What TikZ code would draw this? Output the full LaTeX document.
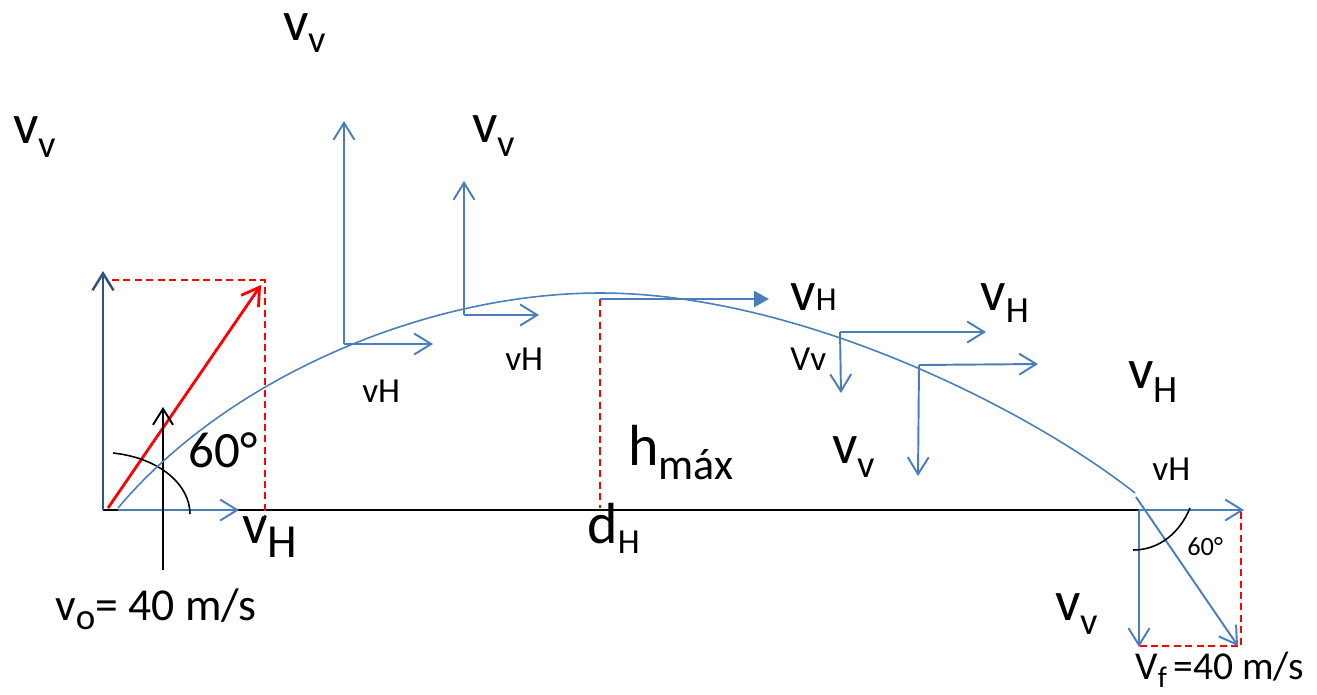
\documentclass[tikz,border=0pt]{standalone}
\usepackage{fontspec}
\setmainfont{Carlito}
\usepackage{tikz}
\usetikzlibrary{arrows.meta}
\definecolor{vblue}{HTML}{4A7EBB}
\definecolor{dblue}{HTML}{2E5181}
\newcommand{\lowsub}[3]{\raisebox{-#3}{\fontsize{#1}{#1}\selectfont #2}}

\begin{document}
\begin{tikzpicture}[
  x=0.02cm, y=-0.02cm,
  vec/.style={vblue, line width=1.1pt, -{Straight Barb[length=3.4mm, width=4.2mm]}},
  comp/.style={red, line width=1.2pt, dash pattern=on 4pt off 2.5pt},
  traj/.style={vblue, line width=0.9pt},
  angarc/.style={black, line width=0.9pt},
  txt/.style={anchor=base west, inner sep=0pt, font=\fontsize{#1}{#1}\selectfont}
]
\useasboundingbox (0,0) rectangle (1317,694);

\coordinate (origin) at (103,510);
\coordinate (vtop) at (103,271);
\coordinate (red0) at (108,508);
\coordinate (red1) at (261,285);
\coordinate (hstart) at (118,510);
\coordinate (htip) at (239,510);
\coordinate (boxtl) at (112,280);
\coordinate (boxtr) at (265,280);
\coordinate (boxbr) at (265,520);
\coordinate (ground) at (1150,510);
\coordinate (vzerob) at (163,570);
\coordinate (vzerot) at (163,407);

\coordinate (p1) at (344,344);   \coordinate (p1v) at (344,121);  \coordinate (p1h) at (433,344);
\coordinate (p2) at (464,315);   \coordinate (p2v) at (464,181);  \coordinate (p2h) at (539,315);
\coordinate (top) at (600,299);  \coordinate (toph) at (769,299); \coordinate (topg) at (600,508);
\coordinate (p4) at (840,332);   \coordinate (p4v) at (841,393);  \coordinate (p4h) at (986,332);
\coordinate (p5) at (919,365);   \coordinate (p5v) at (918,476);  \coordinate (p5h) at (1038,364);
\coordinate (end) at (1139,510); \coordinate (endv) at (1139,647); \coordinate (endh) at (1244,510);
\coordinate (endd) at (1136,497); \coordinate (vf) at (1238,646);
\coordinate (fbr) at (1241,646); \coordinate (fbl) at (1139,646); \coordinate (fbt) at (1241,512);
\coordinate (launch) at (118,508); \coordinate (apex) at (600,293); \coordinate (land) at (1135,493);

% ground and launch
\draw[black, line width=0.9pt] (origin) -- (ground);
\draw[dblue, line width=1.4pt, -{Straight Barb[length=3.4mm, width=4.2mm]}] (origin) -- (vtop);
\draw[comp] (boxtl) -- (boxtr) -- (boxbr);
\draw[red, line width=1.6pt, -{Straight Barb[length=3.4mm, width=4.2mm]}] (red0) -- (red1);
\draw[vec] (hstart) -- (htip);
\draw[black, line width=1.1pt, -{Straight Barb[length=3.2mm, width=4mm]}] (vzerob) -- (vzerot);
\draw[angarc] (113,453) .. controls (160,458) and (190,485) .. (190,514);

\draw[traj] (launch) .. controls (230,375) and (430,293) .. (apex)
                     .. controls (800,293) and (1030,410) .. (land);

\draw[vec] (p1) -- (p1v);
\draw[vec] (p1) -- (p1h);
\draw[vec] (p2) -- (p2v);
\draw[vec] (p2) -- (p2h);
\draw[comp] (top) -- (topg);
\draw[vblue, line width=1.4pt, -{Triangle[length=3mm, width=3.2mm]}] (top) -- (toph);
\draw[vec] (p4) -- (p4h);
\draw[vec] (p4) -- (p4v);
\draw[vec] (p5) -- (p5h);
\draw[vec] (p5) -- (p5v);

% landing
\draw[comp] (fbt) -- (fbr) -- (fbl);
\draw[vec] (end) -- (endh);
\draw[vec] (end) -- (endv);
\draw[vec] (endd) -- (vf);
\draw[angarc] (1190,508) .. controls (1180,532) and (1160,550) .. (1133,550);

% labels
\node[txt=32] (vvleft) at (13,143) {v\lowsub{22}{v}{8pt}};
\node[txt=32, text height=0.5em] (vvtop) at (283,40) {v\lowsub{22}{v}{7pt}};
\node[txt=32] (vvsecond) at (472,142) {v\lowsub{22}{v}{8pt}};
\node[txt=32] (vvfall) at (832,463) {v\lowsub{22}{v}{8pt}};
\node[txt=32] (vvend) at (1055,620) {v\lowsub{22}{v}{8.5pt}};
\node[txt=32] (vhpeak) at (790,310) {v\lowsub{19}{H}{0.5pt}};
\node[txt=32] (vhfall) at (980,310) {v\lowsub{21}{H}{7pt}};
\node[txt=32] (vhland) at (1128,388) {v\lowsub{22}{H}{8pt}};
\node[txt=32] (vhstart) at (242,543) {v\lowsub{27}{H}{8pt}};
\node[txt=20] (vhone) at (362,402) {vH};
\node[txt=20] (vhtwo) at (505,370) {vH};
\node[txt=20] (vhend) at (1152,480) {vH};
\node[txt=20] (vvsmall) at (790,370) {Vv};
\node[txt=33] (hmax) at (628,465) {h\lowsub{25}{máx}{8.5pt}};
\node[txt=33] (dh) at (587,543) {d\lowsub{20}{H}{6pt}};
\node[txt=29] (angleft) at (188,467) {60°};
\node[txt=26] (vzero) at (55,620) {v\lowsub{21}{o}{5.5pt}= 40 m/s};
\node[txt=15] (angright) at (1187,555) {60°};
\node[txt=22.5, text depth=0pt] (vfinal) at (1135,679) {V\smash{\lowsub{17}{f}{5pt}}\,=40 m/s};

\end{tikzpicture}
\end{document}
